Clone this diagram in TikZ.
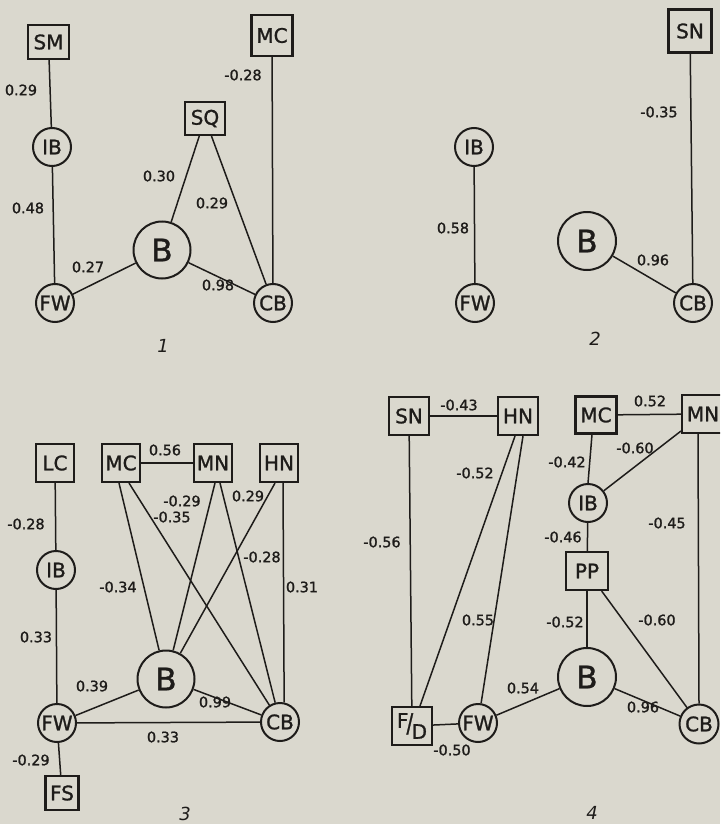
\documentclass[tikz,border=0pt]{standalone}
\usepackage{fontspec}
\setmainfont{DejaVu Sans}
\newfontfamily\markfont[FakeBold=1.2]{DejaVu Sans}
\newfontfamily\coeffont[FakeBold=1.4]{DejaVu Sans}
\definecolor{paper}{RGB}{218,216,206}
\definecolor{ink}{RGB}{30,28,26}
\tikzset{
  sqbox/.style={draw=ink, line width=2.1pt, rectangle, minimum width=40pt, minimum height=37pt,
    inner sep=0pt, text=ink, font=\markfont\fontsize{20}{20}\selectfont},
  rnd/.style={draw=ink, line width=2pt, circle, minimum size=38pt, inner sep=0pt,
    text=ink, font=\markfont\fontsize{20}{20}\selectfont},
  bigrnd/.style={rnd, minimum size=57pt, font=\markfont\fontsize{31}{31}\selectfont},
  link/.style={draw=ink, line width=1.5pt},
  coef/.style={text=ink, inner sep=0pt, font=\coeffont\fontsize{14.4}{14.4}\selectfont},
  panel/.style={text=ink, inner sep=0pt, font=\itshape\fontsize{18}{18}\selectfont}
}
\begin{document}
\begin{tikzpicture}[x=1pt,y=-1pt]
\fill[paper] (0,0) rectangle (720,824);
\useasboundingbox (0,0) rectangle (720,824);
\begin{scope}
\clip (0,0) rectangle (720,824);

% ---------- panel 1 ----------
\node[sqbox, minimum height=34pt, minimum width=41pt] (sm1) at (48.5,42) {SM};
\node[rnd] (ib1) at (52,147) {IB};
\node[rnd] (fw1) at (55,303) {FW};
\node[bigrnd] (b1) at (162,250) {B};
\node[sqbox, minimum height=33pt] (sq1) at (205,118.5) {SQ};
\node[sqbox, minimum width=41pt, minimum height=41pt] (mc1) at (272,35.5) {MC};
\node[rnd] (cb1) at (273,303) {CB};
\node[panel] (n1) at (163,346) {1};

\draw[link] (sm1) -- (ib1);
\draw[link] (ib1) -- (fw1);
\draw[link] (fw1) -- (b1);
\draw[link] (b1) -- (sq1);
\draw[link] (sq1) -- (cb1);
\draw[link] (b1) -- (cb1);
\draw[link] (mc1) -- (cb1);

\node[coef] (c1a) at (21,90) {0.29};
\node[coef] (c1b) at (28,208) {0.48};
\node[coef] (c1c) at (88,267) {0.27};
\node[coef] (c1d) at (159,176) {0.30};
\node[coef] (c1e) at (212,203) {0.29};
\node[coef] (c1f) at (218,285) {0.98};
\node[coef] (c1g) at (243,75) {-0.28};

% ---------- panel 2 ----------
\node[sqbox, minimum width=43pt, minimum height=43pt] (sn2) at (690,31) {SN};
\node[rnd] (ib2) at (474,147) {IB};
\node[rnd] (fw2) at (475,303) {FW};
\node[bigrnd, minimum size=58pt] (b2) at (587,241) {B};
\node[rnd] (cb2) at (693,303) {CB};
\node[panel] (n2) at (595,339) {2};

\draw[link] (ib2) -- (fw2);
\draw[link] (b2) -- (cb2);
\draw[link] (sn2) -- (cb2);

\node[coef] (c2a) at (453,228) {0.58};
\node[coef] (c2b) at (653,260) {0.96};
\node[coef] (c2c) at (659,112) {-0.35};

% ---------- panel 3 ----------
\node[sqbox, minimum height=38pt, minimum width=38pt] (lc3) at (55,463) {LC};
\node[sqbox, minimum height=38pt, minimum width=38pt] (mc3) at (121,463) {MC};
\node[sqbox, minimum height=38pt, minimum width=38pt] (mn3) at (213,463) {MN};
\node[sqbox, minimum height=38pt, minimum width=38pt] (hn3) at (279,463) {HN};
\node[rnd] (ib3) at (56,570) {IB};
\node[rnd] (fw3) at (57,723) {FW};
\node[sqbox, minimum width=33pt, minimum height=34pt] (fs3) at (62,793) {FS};
\node[bigrnd] (b3) at (166,679) {B};
\node[rnd] (cb3) at (280,722) {CB};
\node[panel] (n3) at (185,814) {3};

\draw[link] (lc3) -- (ib3);
\draw[link] (ib3) -- (fw3);
\draw[link] (fw3) -- (fs3);
\draw[link] (mc3) -- (mn3);
\draw[link] ([xshift=-2pt]mc3.south) -- (b3);
\draw[link] ([xshift=8pt]mc3.south) -- (cb3);
\draw[link] ([xshift=2pt]mn3.south) -- (b3);
\draw[link] ([xshift=7pt]mn3.south) -- (cb3);
\draw[link] ([xshift=-4pt]hn3.south) -- (b3);
\draw[link] ([xshift=4pt]hn3.south) -- (cb3.78);
\draw[link] (fw3) -- (b3);
\draw[link] (b3) -- (cb3);
\draw[link] (fw3) -- (cb3);

\node[coef] (c3a) at (165,450) {0.56};
\node[coef] (c3b) at (118,587) {-0.34};
\node[coef] (c3c) at (172,517) {-0.35};
\node[coef] (c3d) at (182,501) {-0.29};
\node[coef] (c3e) at (262,557) {-0.28};
\node[coef] (c3f) at (248,496) {0.29};
\node[coef] (c3g) at (302,587) {0.31};
\node[coef] (c3h) at (92,686) {0.39};
\node[coef] (c3i) at (215,702) {0.99};
\node[coef] (c3j) at (163,737) {0.33};
\node[coef] (c3k) at (26,524) {-0.28};
\node[coef] (c3l) at (36,637) {0.33};
\node[coef] (c3m) at (31,760) {-0.29};

% ---------- panel 4 ----------
\node[sqbox, minimum height=38pt] (sn4) at (409,416) {SN};
\node[sqbox, minimum height=38pt] (hn4) at (518,416) {HN};
\node[sqbox, minimum width=41pt] (mc4) at (596,415) {MC};
\node[sqbox, minimum width=42pt, minimum height=38pt] (mn4) at (703,414) {MN};
\node[rnd] (ib4) at (588,503) {IB};
\node[sqbox, minimum width=42pt, minimum height=38pt] (pp4) at (587,571) {PP};
\node[bigrnd, minimum size=58pt] (b4) at (587,677) {B};
\node[sqbox, minimum height=38pt] (fd4) at (412,726)
  {\raisebox{4.5pt}{F}\kern-2pt\scalebox{1}[1.3]{/}\kern-1.5pt\raisebox{-6.5pt}{D}};
\node[rnd] (fw4) at (478,723) {FW};
\node[rnd, minimum size=39pt] (cb4) at (699,724) {CB};
\node[panel] (n4) at (592,813) {4};

\draw[link] (sn4) -- (hn4);
\draw[link] (sn4) -- (fd4);
\draw[link] ([xshift=-3pt]hn4.south) -- ([xshift=8pt]fd4.north);
\draw[link] ([xshift=5pt]hn4.south) -- (fw4);
\draw[link] (fd4) -- (fw4);
\draw[link] (fw4) -- (b4);
\draw[link] (mc4) -- (mn4);
\draw[link] ([xshift=-4pt]mc4.south) -- (ib4.north);
\draw[link] (mn4) -- (ib4);
\draw[link] (ib4) -- (pp4);
\draw[link] (pp4) -- (b4);
\draw[link] (pp4) -- (cb4);
\draw[link] (b4) -- (cb4);
\draw[link] ([xshift=-5pt]mn4.south) -- (cb4.north);

\node[coef] (c4a) at (459,405) {-0.43};
\node[coef] (c4b) at (382,542) {-0.56};
\node[coef] (c4c) at (475,473) {-0.52};
\node[coef] (c4d) at (478,620) {0.55};
\node[coef] (c4e) at (452,750) {-0.50};
\node[coef] (c4f) at (523,688) {0.54};
\node[coef] (c4g) at (650,401) {0.52};
\node[coef] (c4h) at (567,462) {-0.42};
\node[coef] (c4i) at (635,448) {-0.60};
\node[coef] (c4j) at (563,537) {-0.46};
\node[coef] (c4k) at (565,622) {-0.52};
\node[coef] (c4l) at (657,620) {-0.60};
\node[coef] (c4m) at (643,707) {0.96};
\node[coef] (c4n) at (667,523) {-0.45};
\end{scope}
\end{tikzpicture}
\end{document}
